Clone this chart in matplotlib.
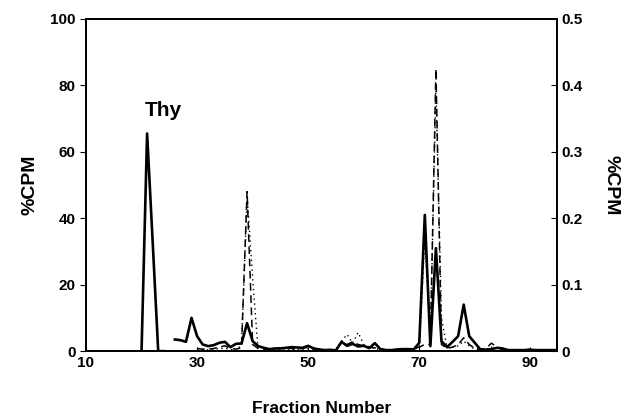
import numpy as np
import matplotlib.pyplot as plt

plt.rcParams['font.family'] = ['Liberation Sans', 'DejaVu Sans']
plt.rcParams['font.weight'] = 'bold'

# Fractions and %CPM (left axis, solid line)
fractions_solid = list(range(20, 96))
cpm_solid = [0, 65.5, 33, 0, 0, np.nan, 3.5, 3.3, 2.8, 10,
             4.5, 2.0, 1.5, 1.8, 2.5, 2.8, 1.2, 2.2, 2.3, 8.4,
             3.0, 1.5, 1.0, 0.6, 0.8, 0.8, 1.0, 1.2, 1.1, 1.0,
             1.6, 0.8, 0.5, 0.3, 0.4, 0.2, 2.8, 1.6, 2.2, 1.4,
             1.6, 0.9, 2.4, 0.6, 0.3, 0.3, 0.5, 0.6, 0.6, 0.5,
             2.5, 41, 1.5, 31, 3.0, 1.2, 2.8, 4.5, 14, 4.5,
             2.5, 0.5, 0.4, 0.6, 1.0, 0.8, 0.3, 0.3, 0.3, 0.3,
             0.4, 0.3, 0.3, 0.3, 0.3, 0.3]

# %CPM on right axis, dashed and dotted traces
fractions_right = list(range(30, 96))
cpm_dashed = [0.004, 0.003, 0.003, 0.004, 0.006, 0.008, 0.004, 0.003, 0.005, 0.24,
              0.01, 0.004, 0.003, 0.003, 0.004, 0.005, 0.004, 0.004, 0.003, 0.004,
              0.006, 0.004, 0.003, 0.002, 0.002, 0.003, 0.012, 0.01, 0.014, 0.01,
              0.008, 0.006, 0.005, 0.003, 0.002, 0.002, 0.002, 0.003, 0.003, 0.004,
              0.006, 0.01, 0.01, 0.425, 0.01, 0.004, 0.006, 0.01, 0.02, 0.01,
              0.004, 0.003, 0.004, 0.012, 0.006, 0.003, 0.002, 0.002, 0.002, 0.002,
              0.003, 0.002, 0.002, 0.002, 0.002, 0.002]
cpm_dotted = [0.002, 0.002, 0.002, 0.003, 0.004, 0.004, 0.003, 0.0, 0.01, 0.235,
              0.11, 0.0, 0.002, 0.002, 0.002, 0.003, 0.003, 0.003, 0.002, 0.003,
              0.004, 0.003, 0.002, 0.002, 0.002, 0.002, 0.015, 0.025, 0.012, 0.028,
              0.01, 0.006, 0.004, 0.002, 0.002, 0.002, 0.002, 0.002, 0.002, 0.003,
              0.005, 0.17, 0.02, 0.40, 0.05, 0.005, 0.006, 0.008, 0.015, 0.008,
              0.003, 0.002, 0.003, 0.006, 0.004, 0.002, 0.002, 0.002, 0.002, 0.002,
              0.002, 0.002, 0.002, 0.002, 0.002, 0.002]

fig = plt.figure(figsize=(6.25, 4.2), dpi=100)
ax = fig.add_axes([0.1376, 0.164, 0.7536, 0.791])
ax2 = ax.twinx()

ax.plot(fractions_solid, cpm_solid, color='black', linewidth=1.9)
ax2.plot(fractions_right, cpm_dashed, color='black', linewidth=1.1, linestyle=(0, (5, 3)))
ax2.plot(fractions_right, cpm_dotted, color='black', linewidth=1.0, linestyle=(0, (1, 2.5)))

ax.set_xlim(10, 94.8)
ax.set_ylim(0, 100)
ax2.set_ylim(0, 0.5)
ax.set_xticks([10, 30, 50, 70, 90])
ax.set_yticks([0, 20, 40, 60, 80, 100])
ax2.set_yticks([0, 0.1, 0.2, 0.3, 0.4, 0.5])
ax2.set_yticklabels(['0', '0.1', '0.2', '0.3', '0.4', '0.5'])

ax.tick_params(axis='y', direction='out', length=4, labelsize=11)
ax.tick_params(axis='x', direction='in', length=3, labelsize=11)
ax2.tick_params(axis='y', direction='in', length=4, labelsize=11)

for a in (ax, ax2):
    for s in a.spines.values():
        s.set_linewidth(1.3)

ax.set_ylabel('%CPM', fontsize=14, fontweight='bold', labelpad=8)
ax2.set_ylabel('%CPM', fontsize=14, fontweight='bold', rotation=270, labelpad=26)
ax.set_xlabel('Fraction Number', fontsize=12.5, fontweight='bold', labelpad=22)

ax.text(24.0, 72.5, 'Thy', fontsize=15, fontweight='bold', ha='center', va='center')

fig.savefig('out.png', dpi=100)
